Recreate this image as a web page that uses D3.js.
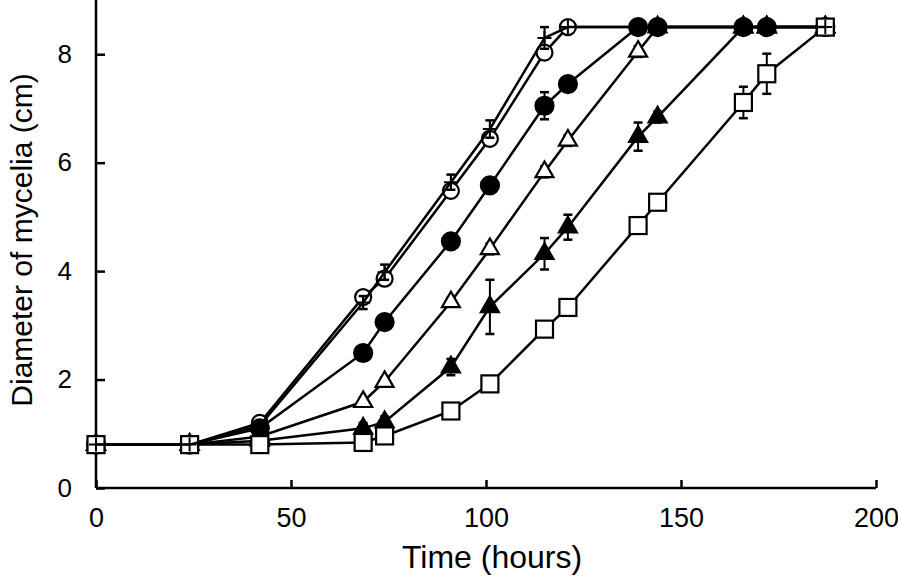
<!DOCTYPE html>
<html>
<head>
<meta charset="utf-8">
<script src="https://cdn.jsdelivr.net/npm/d3@7"></script>
<style>
  html, body { margin: 0; padding: 0; background: #fff; }
  svg { display: block; }
  text { font-family: "Liberation Sans", Arial, sans-serif; fill: #000; }
</style>
</head>
<body>
<svg id="chart" width="898" height="582"></svg>
<script>
// ---- data ----
const times = [0, 24, 42, 68.5, 74, 91, 101, 115, 121, 139, 144, 166, 172, 187];

const plusVals        = [0.8, 0.8, 1.15, 3.42, 3.98, 5.64, 6.62, 8.30, 8.5, 8.5, 8.5, 8.5, 8.5, 8.5];
const plusErr         = [0, 0, 0.05, 0.12, 0.14, 0.14, 0.16, 0.20, 0, 0, 0, 0, 0, 0];
const openCircleVals  = [0.8, 0.8, 1.20, 3.52, 3.86, 5.48, 6.44, 8.03, 8.5, 8.5, 8.5, 8.5, 8.5, 8.5];
const openCircleErr   = [0, 0, 0.05, 0.08, 0.08, 0.08, 0.10, 0.10, 0, 0, 0, 0, 0, 0];
const filledCircleVals= [0.8, 0.8, 1.10, 2.49, 3.06, 4.55, 5.58, 7.05, 7.45, 8.5, 8.5, 8.5, 8.5, 8.5];
const filledCircleErr = [0, 0, 0.05, 0.12, 0.08, 0.08, 0.10, 0.25, 0.12, 0, 0, 0, 0, 0];
const openTriVals     = [0.8, 0.8, 0.95, 1.59, 1.96, 3.43, 4.41, 5.83, 6.41, 8.05, 8.5, 8.5, 8.5, 8.5];
const openTriErr      = [0, 0, 0.05, 0.08, 0.08, 0.08, 0.10, 0.10, 0.10, 0.10, 0, 0, 0, 0];
const filledTriVals   = [0.8, 0.8, 0.87, 1.10, 1.22, 2.23, 3.34, 4.32, 4.81, 6.48, 6.84, 8.5, 8.5, 8.5];
const filledTriErr    = [0, 0, 0.05, 0.10, 0.10, 0.15, 0.50, 0.29, 0.23, 0.26, 0.10, 0, 0, 0];
const openSquareVals  = [0.8, 0.8, 0.80, 0.84, 0.96, 1.42, 1.92, 2.93, 3.33, 4.84, 5.27, 7.11, 7.64, 8.5];
const openSquareErr   = [0, 0, 0, 0.05, 0.05, 0.05, 0.05, 0.05, 0.05, 0.05, 0.10, 0.29, 0.37, 0];

const xTicks = [0, 50, 100, 150, 200];
const yTicks = [0, 2, 4, 6, 8];
const xTitle = "Time (hours)";
const yTitle = "Diameter of mycelia (cm)";

// draw order: bottom to top
const series = [
  { name: "openCircle",   vals: openCircleVals,   err: openCircleErr,   marker: "circle",   fill: "#fff" },
  { name: "openTri",      vals: openTriVals,      err: openTriErr,      marker: "triangle", fill: "#fff" },
  { name: "filledCircle", vals: filledCircleVals, err: filledCircleErr, marker: "circle",   fill: "#000" },
  { name: "filledTri",    vals: filledTriVals,    err: filledTriErr,    marker: "triangle", fill: "#000" },
  { name: "openSquare",   vals: openSquareVals,   err: openSquareErr,   marker: "square",   fill: "#fff" },
  { name: "plus",         vals: plusVals,         err: plusErr,         marker: "plus",     fill: "none" }
];

// ---- layout ----
const svg = d3.select("#chart");
const x = d3.scaleLinear().domain([0, 200]).range([96, 876]);
const y = d3.scaleLinear().domain([0, 9]).range([488, 0]);

// axes
const xAxis = d3.axisBottom(x).tickValues(xTicks).tickSize(-8).tickPadding(20).tickFormat(d3.format("d"));
const yAxis = d3.axisLeft(y).tickValues(yTicks).tickSize(-9).tickPadding(24).tickFormat(d3.format("d"));

const gx = svg.append("g").attr("transform", `translate(0,${y(0)})`).call(xAxis);
const gy = svg.append("g").attr("transform", `translate(${x(0)},0)`).call(yAxis);
[gx, gy].forEach(g => {
  g.select(".domain").attr("stroke", "#000").attr("stroke-width", 2.5);
  g.selectAll(".tick line").attr("stroke", "#000").attr("stroke-width", 2.5);
});
gx.selectAll(".tick text").attr("font-size", 27).attr("font-family", "Liberation Sans, Arial, sans-serif").attr("dy", "0.71em");
gy.selectAll(".tick text").attr("font-size", 26).attr("font-family", "Liberation Sans, Arial, sans-serif");
gx.select(".domain").attr("d", `M${x(0)},0H${x(200)}`);
gy.select(".domain").attr("d", `M0,${y(0)}V${y(9)}`);

svg.append("text").attr("x", 492).attr("y", 568).attr("text-anchor", "middle")
  .attr("font-size", 32).text(xTitle);
svg.append("text").attr("transform", `translate(32,240) rotate(-90)`).attr("text-anchor", "middle")
  .attr("font-size", 30).text(yTitle);

// ---- series ----
const line = d3.line().x(d => x(d.t)).y(d => y(d.v));
const triSym = d3.symbol().type(d3.symbolTriangle).size(140);

series.forEach(s => {
  const pts = times.map((t, i) => ({ t, v: s.vals[i], e: s.err[i] }));
  const g = svg.append("g").attr("class", s.name);
  g.append("path").datum(pts).attr("d", line)
    .attr("fill", "none").attr("stroke", "#000").attr("stroke-width", 2.5);

  const eb = g.selectAll(".eb").data(pts.filter(p => p.e > 0)).enter().append("g");
  eb.append("line").attr("x1", d => x(d.t)).attr("x2", d => x(d.t))
    .attr("y1", d => y(d.v - d.e)).attr("y2", d => y(d.v + d.e))
    .attr("stroke", "#000").attr("stroke-width", 2);
  [-1, 1].forEach(sgn => {
    eb.append("line").attr("x1", d => x(d.t) - 4.5).attr("x2", d => x(d.t) + 4.5)
      .attr("y1", d => y(d.v + sgn * d.e)).attr("y2", d => y(d.v + sgn * d.e))
      .attr("stroke", "#000").attr("stroke-width", 2.5);
  });

  const m = g.selectAll(".m").data(pts).enter();
  if (s.marker === "circle") {
    m.append("circle").attr("cx", d => x(d.t)).attr("cy", d => y(d.v))
      .attr("r", s.fill === "#000" ? 9 : 8)
      .attr("fill", s.fill).attr("stroke", "#000").attr("stroke-width", 2.2);
  } else if (s.marker === "triangle") {
    m.append("path").attr("d", triSym)
      .attr("transform", d => `translate(${x(d.t)},${y(d.v)})`)
      .attr("fill", s.fill).attr("stroke", "#000").attr("stroke-width", 2.2);
  } else if (s.marker === "square") {
    m.append("rect").attr("x", d => x(d.t) - 8.5).attr("y", d => y(d.v) - 8.5)
      .attr("width", 17).attr("height", 17)
      .attr("fill", s.fill).attr("stroke", "#000").attr("stroke-width", 2.2);
  } else if (s.marker === "plus") {
    m.append("path")
      .attr("d", d => `M${x(d.t) - 7},${y(d.v)}H${x(d.t) + 7}M${x(d.t)},${y(d.v) - 7}V${y(d.v) + 7}`)
      .attr("stroke", "#000").attr("stroke-width", 2).attr("fill", "none");
  }
});
</script>
</body>
</html>
